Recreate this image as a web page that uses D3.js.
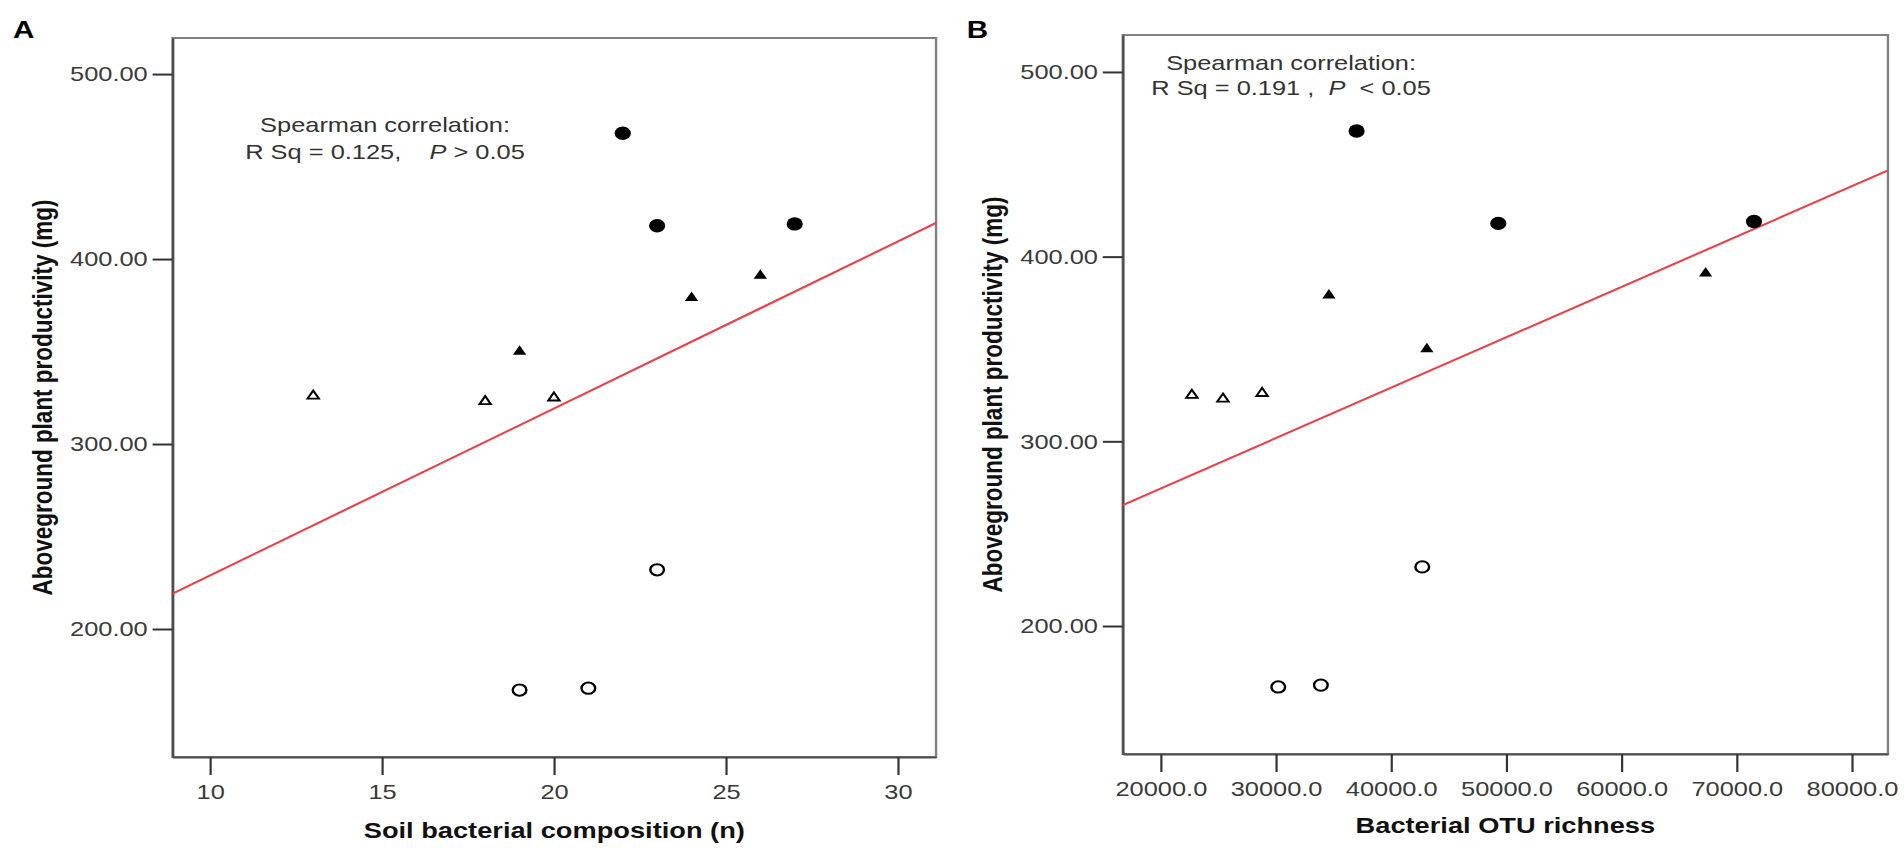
<!DOCTYPE html>
<html>
<head>
<meta charset="utf-8">
<script src="https://cdn.jsdelivr.net/npm/d3@7.9.0/dist/d3.min.js"></script>
<style>
  html, body { margin: 0; padding: 0; background: #fff; }
  svg { display: block; font-family: "Liberation Sans", Arial, sans-serif; }
</style>
</head>
<body>
<div id="chart"></div>
<script>
// one entry per soil sample (same order in every array)
const groups = [
  "openTriangle", "openTriangle", "openTriangle",
  "filledTriangle", "filledTriangle", "filledTriangle",
  "filledCircle", "filledCircle", "filledCircle",
  "openCircle", "openCircle", "openCircle"
];
const productivity = [323, 326, 325, 350, 379, 391, 468, 418, 419, 167, 168, 232];
const composition  = [18, 13, 20, 19, 24, 26, 22, 23, 27, 19, 21, 23];
const otuRichness  = [25400, 28800, 22700, 43100, 34600, 67300, 37000, 49300, 71500, 30200, 33900, 42700];

const yTicks = [200, 300, 400, 500];
const compositionTicks = [10, 15, 20, 25, 30];
const richnessTicks = [20000, 30000, 40000, 50000, 60000, 70000, 80000];

const yTitle = "Aboveground plant productivity (mg)";
const xTitles = ["Soil bacterial composition (n)", "Bacterial OTU richness"];
const panelLetters = ["A", "B"];
const statTitle = "Spearman correlation:";
const statLines = [
  ["R Sq = 0.125,    ", "P", " > 0.05"],
  ["R Sq = 0.191 ,  ", "P", "  < 0.05"]
];

// the source figure is stretched horizontally, so everything is drawn
// in a narrower space and widened by SX
const W = 1904, H = 850, SX = 1.21;

const svg = d3.select("#chart").append("svg")
    .attr("width", W)
    .attr("height", H)
    .attr("viewBox", [0, 0, W, H]);

const root = svg.append("g").attr("transform", `scale(${SX},1)`);

const panels = [
  {
    letter: panelLetters[0], letterX: 10.7,
    xs: composition, xDomain: [8.91, 31.11], ticks: compositionTicks, fmt: d3.format("d"),
    left: 142.6, right: 773.6, top: 38, bottom: 757,
    yDomain: [130.8, 519.5],
    xTitle: xTitles[0], xTitleY: 838, yTitleX: 42.7,
    statX: 318.2, statY: [131.7, 159.3], stat: statLines[0]
  },
  {
    letter: panelLetters[1], letterX: 799,
    xs: otuRichness, xDomain: [16700, 83130], ticks: richnessTicks, fmt: d3.format(".1f"),
    left: 927.9, right: 1560.3, top: 35, bottom: 754,
    yDomain: [130.7, 520],
    xTitle: xTitles[1], xTitleY: 833, yTitleX: 827.9,
    statX: 1067, statY: [70, 95.5], stat: statLines[1]
  }
];

function linearFit(xs, ys) {
  const mx = d3.mean(xs), my = d3.mean(ys);
  const sxy = d3.sum(xs, (v, i) => (v - mx) * (ys[i] - my));
  const sxx = d3.sum(xs, v => (v - mx) * (v - mx));
  const slope = sxy / sxx;
  return {slope, intercept: my - slope * mx};
}

const markers = {
  filledCircle:   {type: d3.symbolCircle,   size: 141, fill: "#000", stroke: "none", sw: 0},
  openCircle:     {type: d3.symbolCircle,   size: 100, fill: "#fff", stroke: "#000", sw: 2},
  filledTriangle: {type: d3.symbolTriangle, size: 52,  fill: "#000", stroke: "none", sw: 0},
  openTriangle:   {type: d3.symbolTriangle, size: 38,  fill: "#fff", stroke: "#000", sw: 1.8}
};

panels.forEach((p, k) => {
  const g = root.append("g");
  const x = d3.scaleLinear(p.xDomain, [p.left, p.right]);
  const y = d3.scaleLinear(p.yDomain, [p.bottom, p.top]);

  // panel letter
  g.append("text")
      .attr("x", p.letterX)
      .attr("y", 38.3)
      .attr("font-size", 24.5)
      .attr("font-weight", "bold")
      .attr("fill", "#000")
      .text(p.letter);

  // frame
  g.append("rect")
      .attr("x", p.left)
      .attr("y", p.top)
      .attr("width", p.right - p.left)
      .attr("height", p.bottom - p.top)
      .attr("fill", "none")
      .attr("stroke", "#808080")
      .attr("stroke-width", 2);

  // axes
  g.append("g")
      .attr("transform", `translate(0,${p.bottom})`)
      .call(d3.axisBottom(x).tickValues(p.ticks).tickFormat(p.fmt)
          .tickSize(18).tickSizeOuter(0).tickPadding(9))
      .call(a => a.select(".domain").attr("stroke", "#4d4d4d").attr("stroke-width", 2))
      .call(a => a.selectAll(".tick line").attr("stroke", "#333").attr("stroke-width", 1.8))
      .call(a => a.selectAll(".tick text")
          .attr("font-family", "'Liberation Sans', Arial, sans-serif")
          .attr("font-size", 21)
          .attr("fill", "#3a3a3a"));

  g.append("g")
      .attr("transform", `translate(${p.left},0)`)
      .call(d3.axisLeft(y).tickValues(yTicks).tickFormat(d3.format(".2f"))
          .tickSize(16.5).tickSizeOuter(0).tickPadding(4))
      .call(a => a.select(".domain").attr("stroke", "#4d4d4d").attr("stroke-width", 2))
      .call(a => a.selectAll(".tick line").attr("stroke", "#333").attr("stroke-width", 2))
      .call(a => a.selectAll(".tick text")
          .attr("font-family", "'Liberation Sans', Arial, sans-serif")
          .attr("font-size", 21)
          .attr("fill", "#3a3a3a"));

  // axis titles
  g.append("text")
      .attr("x", (p.left + p.right) / 2)
      .attr("y", p.xTitleY)
      .attr("text-anchor", "middle")
      .attr("font-size", 22.5)
      .attr("font-weight", "bold")
      .attr("fill", "#111")
      .text(p.xTitle);

  g.append("text")
      .attr("transform", `translate(${p.yTitleX},${(p.top + p.bottom) / 2}) rotate(-90)`)
      .attr("text-anchor", "middle")
      .attr("font-size", 22.5)
      .attr("font-weight", "bold")
      .attr("fill", "#111")
      .text(yTitle);

  // fit line, clipped to the frame
  const clipId = `clip-${k}`;
  g.append("clipPath").attr("id", clipId)
    .append("rect")
      .attr("x", p.left).attr("y", p.top)
      .attr("width", p.right - p.left).attr("height", p.bottom - p.top);

  const fit = linearFit(p.xs, productivity);
  const line = d3.line()
      .x(d => x(d))
      .y(d => y(fit.intercept + fit.slope * d));

  g.append("path")
      .attr("clip-path", `url(#${clipId})`)
      .attr("fill", "none")
      .attr("stroke", "#e8414a")
      .attr("stroke-width", 2)
      .attr("d", line(x.domain()));

  // points
  g.selectAll("path.pt")
    .data(d3.range(productivity.length))
    .join("path")
      .attr("class", "pt")
      .attr("transform", i => `translate(${x(p.xs[i])},${y(productivity[i])})`)
      .attr("d", i => d3.symbol(markers[groups[i]].type, markers[groups[i]].size)())
      .attr("fill", i => markers[groups[i]].fill)
      .attr("stroke", i => markers[groups[i]].stroke)
      .attr("stroke-width", i => markers[groups[i]].sw);

  // statistics note
  const note = g.append("g")
      .attr("font-size", 21)
      .attr("fill", "#333")
      .attr("text-anchor", "middle");

  note.append("text")
      .attr("x", p.statX)
      .attr("y", p.statY[0])
      .text(statTitle);

  const t = note.append("text")
      .attr("x", p.statX)
      .attr("y", p.statY[1])
      .attr("xml:space", "preserve")
      .style("white-space", "pre");
  t.append("tspan").text(p.stat[0]);
  t.append("tspan").attr("font-style", "italic").text(p.stat[1]);
  t.append("tspan").text(p.stat[2]);
});
</script>
</body>
</html>
